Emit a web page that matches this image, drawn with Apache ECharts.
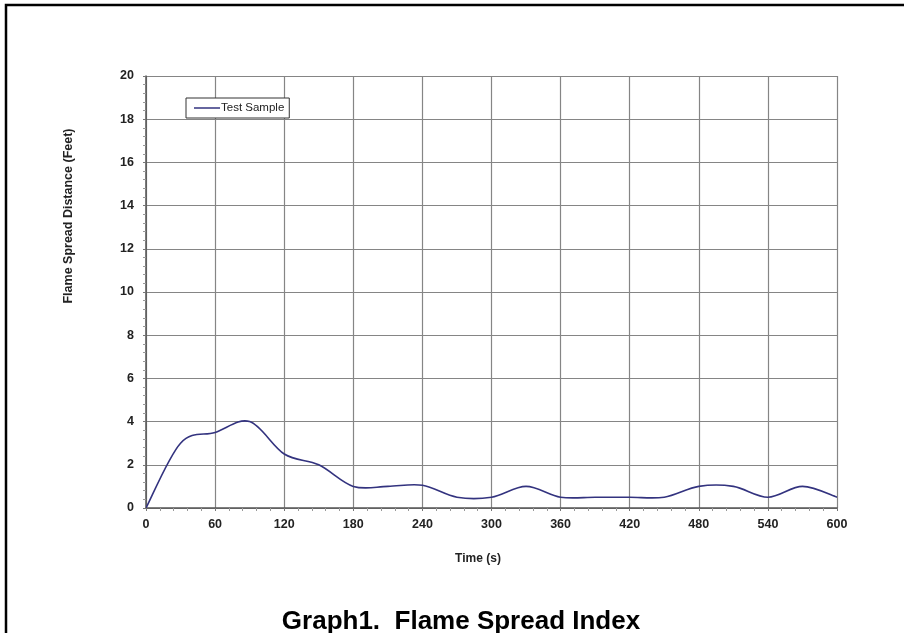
<!DOCTYPE html>
<html>
<head>
<meta charset="utf-8">
<script src="https://cdn.jsdelivr.net/npm/echarts@6/dist/echarts.min.js"></script>
<style>
html,body{margin:0;padding:0;background:#fff;overflow:hidden;}
#chart{width:904px;height:633px;}
</style>
</head>
<body>
<div id="chart"></div>
<script>
// Data
const timeSeconds = [0, 30, 60, 90, 120, 150, 180, 210, 240, 270, 300, 330, 360, 390, 420, 450, 480, 510, 540, 570, 600];
const spreadFeet  = [0, 3.0, 3.5, 4.0, 2.5, 2.0, 1.0, 1.0, 1.05, 0.5, 0.5, 1.0, 0.5, 0.5, 0.5, 0.5, 1.0, 1.0, 0.5, 1.0, 0.5];
const seriesName = 'Test Sample';
const titleText = 'Graph1.  Flame Spread Index';
const xAxisName = 'Time (s)';
const yAxisName = 'Flame Spread Distance (Feet)';

const LINE_COLOR = '#33337f';
const chart = echarts.init(document.getElementById('chart'), null, {renderer: 'canvas'});
const FONT = 'Liberation Sans, Arial, sans-serif';

// Smoothed (Catmull-Rom style, like a spreadsheet "smoothed line") path through the data,
// with every point placed by the chart's own axes via api.coord.
function renderSmoothLine(params, api) {
  if (params.dataIndex !== 0) return null;
  const pts = timeSeconds.map((t, i) => api.coord([t, spreadFeet[i]]));
  const n = pts.length;
  let d = 'M' + pts[0][0] + ' ' + pts[0][1];
  for (let i = 0; i < n - 1; i++) {
    const p0 = pts[Math.max(i - 1, 0)], p1 = pts[i], p2 = pts[i + 1], p3 = pts[Math.min(i + 2, n - 1)];
    const c1x = p1[0] + (p2[0] - p0[0]) / 6, c1y = p1[1] + (p2[1] - p0[1]) / 6;
    const c2x = p2[0] - (p3[0] - p1[0]) / 6, c2y = p2[1] - (p3[1] - p1[1]) / 6;
    d += ' C' + c1x + ' ' + c1y + ' ' + c2x + ' ' + c2y + ' ' + p2[0] + ' ' + p2[1];
  }
  return {
    type: 'path',
    shape: {pathData: d},
    style: {fill: 'none', stroke: LINE_COLOR, lineWidth: 1.6}
  };
}

const option = {
  backgroundColor: '#fff',
  animation: false,
  graphic: [
    {type: 'rect', shape: {x: 6, y: 5, width: 1000, height: 1000}, style: {fill: 'none', stroke: '#000', lineWidth: 2.5}, z: 0},
    {type: 'text', x: 68.5, y: 216, rotation: Math.PI / 2,
      style: {text: yAxisName, fontFamily: FONT, fontSize: 12.5, fontWeight: 'bold', fill: '#222',
        textAlign: 'center', textVerticalAlign: 'middle'}},
    {type: 'text', x: 478, y: 559,
      style: {text: xAxisName, fontFamily: FONT, fontSize: 12, fontWeight: 'bold', fill: '#222',
        textAlign: 'center', textVerticalAlign: 'middle'}}
  ],
  title: {
    text: titleText, left: 461, top: 609, textAlign: 'center', padding: 0,
    textStyle: {fontFamily: FONT, fontSize: 26, fontWeight: 'bold', color: '#000'}
  },
  legend: {
    left: 186, top: 98, orient: 'vertical',
    data: [{name: seriesName, icon: 'rect', itemStyle: {color: LINE_COLOR}}],
    itemWidth: 26, itemHeight: 1.5, itemGap: 0,
    padding: [4, 5, 4, 8],
    borderColor: '#333', borderWidth: 1, backgroundColor: '#fff',
    textStyle: {fontFamily: FONT, fontSize: 11.5, color: '#222', padding: [0, 0, 0, -4]}
  },
  grid: {left: 146, top: 76, right: 67, bottom: 125, containLabel: false},
  xAxis: {
    type: 'value', min: 0, max: 600, interval: 60,
    axisLine: {show: true, lineStyle: {color: '#555', width: 1.5}},
    axisTick: {show: true, length: 3, lineStyle: {color: '#777'}},
    minorTick: {show: true, splitNumber: 5, length: 3, lineStyle: {color: '#999'}},
    axisLabel: {fontFamily: FONT, fontSize: 12.5, fontWeight: 'bold', color: '#222', margin: 10},
    splitLine: {show: true, lineStyle: {color: '#858585', width: 1.2}}
  },
  yAxis: {
    type: 'value', min: 0, max: 20, interval: 2,
    axisLine: {show: true, lineStyle: {color: '#555', width: 1.5}},
    axisTick: {show: true, length: 3, lineStyle: {color: '#777'}},
    minorTick: {show: true, splitNumber: 5, length: 3, lineStyle: {color: '#999'}},
    axisLabel: {fontFamily: FONT, fontSize: 12.5, fontWeight: 'bold', color: '#222', margin: 12},
    splitLine: {show: true, lineStyle: {color: '#858585', width: 1.2}}
  },
  series: [{
    name: seriesName, type: 'custom',
    data: timeSeconds.map((t, i) => [t, spreadFeet[i]]),
    encode: {x: 0, y: 1},
    renderItem: renderSmoothLine,
    itemStyle: {color: LINE_COLOR},
    clip: true,
    z: 5
  }]
};
chart.setOption(option);
</script>
</body>
</html>
